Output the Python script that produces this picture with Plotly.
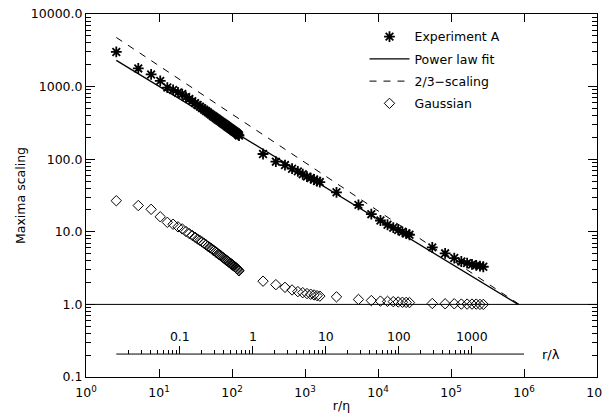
import plotly.graph_objects as go

# ---------------- data ----------------
LAMBDA_OVER_ETA = 193.0  # r/eta = 193 * r/lambda

# Experiment A (asterisks), four resolution groups
expA_x1 = [2.6 * k for k in range(1, 49)]
expA_y1 = [3000, 1780, 1470, 1200, 970, 900, 830, 790, 720, 676,
           631, 592, 558, 530, 504, 481, 460, 442, 424, 408,
           394, 381, 369, 358, 347, 338, 329, 320, 312, 305,
           298, 291, 284, 278, 272, 267, 262, 257, 252, 247,
           243, 239, 235, 231, 227, 222, 217, 212]
expA_x2 = [266, 399, 532, 665, 798, 931, 1064, 1197, 1330, 1463, 1596]
expA_y2 = [118, 92.5, 83, 74, 68, 62, 57.5, 55, 52.5, 50, 48.4]
expA_x3 = [2700, 5400, 8100, 10800, 13500, 16200, 18900, 21600, 24300, 27000]
expA_y3 = [35, 23.5, 17.5, 14.3, 12.5, 11.4, 10.6, 10.0, 9.5, 9.1]
expA_x4 = [55400, 83100, 110800, 138500, 166200, 193900, 221600, 249300, 277000]
expA_y4 = [6.1, 5.05, 4.35, 3.9, 3.7, 3.55, 3.45, 3.37, 3.3]

# Gaussian (diamonds)
gauss_y1 = [26.8, 23.0, 20.4, 16.1, 13.5, 12.7, 11.7, 10.96, 10.1, 9.44,
            8.91, 8.41, 7.94, 7.59, 7.24, 6.92, 6.61, 6.31, 6.10, 5.89,
            5.66, 5.47, 5.28, 5.12, 4.95, 4.81, 4.68, 4.54, 4.42, 4.30,
            4.19, 4.08, 3.99, 3.90, 3.81, 3.72, 3.65, 3.57, 3.50, 3.43,
            3.36, 3.30, 3.24, 3.17, 3.10, 3.03, 2.96, 2.90]
gauss_y2 = [2.09, 1.87, 1.72, 1.58, 1.50, 1.45, 1.41, 1.38, 1.35, 1.32, 1.30]
gauss_y3 = [1.27, 1.17, 1.13, 1.11, 1.10, 1.09, 1.08, 1.07, 1.065, 1.06]
gauss_y4 = [1.03, 1.02, 1.02, 1.01, 1.01, 1.01, 1.01, 1.0, 1.0]

# fitted lines (end points)
fit_x = [2.6, 8.3e5]
fit_y = [2300, 1.0]
twothirds_x = [2.6, 8.6e5]
twothirds_y = [4750, 1.0]

# reference lines
unity_x = [1e0, 1e7]
unity_y = [1.0, 1.0]
rlam_axis_y = 0.207
rlam_axis_x_eta = [2.6, 1e6]

# tick labels
x_tickvals = [10 ** i for i in range(0, 8)]
x_ticktext = ["10<sup>%d</sup>" % i for i in range(0, 8)]
y_tickvals = [0.1, 1, 10, 100, 1000, 10000]
y_ticktext = ["0.1", "1.0", "10.0", "100.0", "1000.0", "10000.0"]
rlam_tickvals = [0.1, 1, 10, 100, 1000]
rlam_ticktext = ["0.1", "1", "10", "100", "1000"]

# ---------------- figure ----------------
expA_x = expA_x1 + expA_x2 + expA_x3 + expA_x4
expA_y = expA_y1 + expA_y2 + expA_y3 + expA_y4
gauss_x = expA_x1 + expA_x2 + expA_x3 + expA_x4
gauss_y = gauss_y1 + gauss_y2 + gauss_y3 + gauss_y4

FONT = "DejaVu Sans"
fig = go.Figure()

fig.add_trace(go.Scatter(x=unity_x, y=unity_y, mode="lines",
                         line=dict(color="black", width=1), showlegend=False,
                         hoverinfo="skip"))

fig.add_trace(go.Scatter(x=expA_x, y=expA_y, mode="markers", name="Experiment A",
                         legendgroup="a",
                         marker=dict(symbol="asterisk-open", size=9, color="black",
                                     line=dict(color="black", width=1.8))))
fig.add_trace(go.Scatter(x=fit_x, y=fit_y, mode="lines", name="Power law fit",
                         legendgroup="b",
                         line=dict(color="black", width=1.3)))
fig.add_trace(go.Scatter(x=twothirds_x, y=twothirds_y, mode="lines", name="2/3\u2212scaling",
                         legendgroup="c",
                         line=dict(color="black", width=1, dash="7px,7px")))
fig.add_trace(go.Scatter(x=gauss_x, y=gauss_y, mode="markers", name="Gaussian",
                         legendgroup="d",
                         marker=dict(symbol="diamond-open", size=8, color="black",
                                     line=dict(color="black", width=1))))

# secondary r/lambda axis line, drawn on the r/lambda axis
fig.add_trace(go.Scatter(x=[v / LAMBDA_OVER_ETA for v in rlam_axis_x_eta],
                         y=[rlam_axis_y, rlam_axis_y], mode="lines",
                         xaxis="x2", yaxis="y",
                         line=dict(color="black", width=1), showlegend=False,
                         hoverinfo="skip"))

y_minor = [m * 10 ** e for e in range(-1, 4) for m in range(2, 10)]
rlam_minor = [m * 10 ** e for e in range(-2, 3) for m in range(2, 10)]

# the page body adds an 8px offset, so margins are reduced by 8px on left/top
fig.update_layout(
    width=611, height=414,
    margin=dict(l=78, r=22, t=6, b=45),
    paper_bgcolor="white", plot_bgcolor="white",
    font=dict(family=FONT, size=12.5, color="black"),
    showlegend=True,
    legend=dict(x=0.545, y=0.978, xanchor="left", yanchor="top",
                bgcolor="rgba(0,0,0,0)", borderwidth=0,
                font=dict(family=FONT, size=12.5),
                traceorder="grouped", tracegroupgap=3, itemwidth=40),
    xaxis=dict(type="log", range=[0, 7], tickvals=x_tickvals, ticktext=x_ticktext,
               ticks="inside", ticklen=8, tickwidth=1, tickcolor="black",
               ticklabelstandoff=4, automargin=False, ticklabeloverflow="allow",
               showline=True, linecolor="black", linewidth=1, mirror="ticks",
               showgrid=False, zeroline=False,
               title=dict(text="r/\u03b7", font=dict(size=12.5), standoff=2)),
    yaxis=dict(type="log", range=[-1, 4], tickvals=y_tickvals, ticktext=y_ticktext,
               ticks="inside", ticklen=9, tickwidth=1, tickcolor="black",
               automargin=False, ticklabeloverflow="allow",
               minor=dict(ticks="inside", ticklen=5, tickvals=y_minor, tickcolor="black",
                          showgrid=False),
               showline=True, linecolor="black", linewidth=1, mirror="ticks",
               showgrid=False, zeroline=False,
               title=dict(text="Maxima scaling", font=dict(size=12.5), standoff=2)),
    xaxis2=dict(type="log", overlaying="x", anchor="free", position=0.0627, side="top",
                range=[0 - 2.2856, 7 - 2.2856],
                tickvals=rlam_tickvals, ticktext=rlam_ticktext,
                ticks="outside", ticklen=8, tickwidth=1, tickcolor="black",
                automargin=False,
                minor=dict(ticks="outside", ticklen=4, tickvals=rlam_minor,
                           tickcolor="black", showgrid=False),
                showline=False, showgrid=False, zeroline=False),
    annotations=[dict(text="r/\u03bb", xref="x", yref="y", x=6.0, y=-0.684,
                      xanchor="left", yanchor="middle", xshift=16, showarrow=False,
                      font=dict(family=FONT, size=13))],
)

fig.write_html("out.html")
